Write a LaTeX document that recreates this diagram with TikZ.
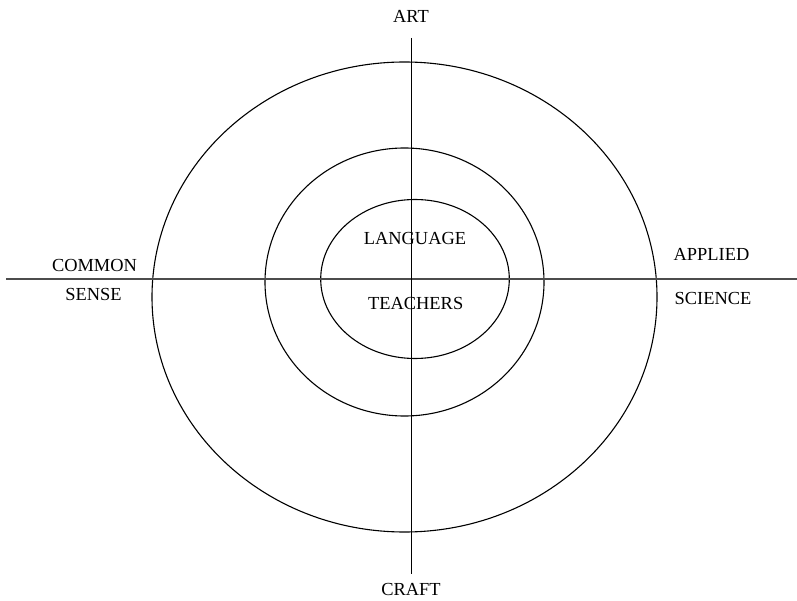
\documentclass[tikz,border=0pt]{standalone}
\usepackage{fontspec}
\setmainfont{Liberation Serif}
\begin{document}
\begin{tikzpicture}[x=1pt,y=-1pt,
  ring/.style={draw=black,line width=1.1pt},
  axis/.style={draw=black,line width=1.2pt},
  haxis/.style={draw=black!70,line width=1.4pt},
  lbl/.style={font=\fontsize{18.4}{20}\selectfont,inner sep=0pt,anchor=center}]
\useasboundingbox (0,0) rectangle (797,601);
% concentric rings
\draw[ring] (404.5,297) ellipse [x radius=252.5, y radius=235];
\draw[ring] (404.5,282) ellipse [x radius=139.5, y radius=134];
\draw[ring] (415,279) ellipse [x radius=94.3, y radius=79.5];
% axes
\coordinate (west) at (6,279);
\coordinate (east) at (797,279);
\coordinate (north) at (411.5,38);
\coordinate (south) at (411.5,574);
\draw[haxis] (west) -- (east);
\draw[axis] (north) -- (south);
% labels
\node[lbl] (art) at (411,16) {ART};
\node[lbl] (craft) at (411,589) {CRAFT};
\node[lbl] (common) at (94.5,265) {COMMON};
\node[lbl] (sense) at (93.5,294.5) {SENSE};
\node[lbl] (applied) at (711.5,254.5) {APPLIED};
\node[lbl] (science) at (713,298.5) {SCIENCE};
\node[lbl] (language) at (415,238) {LANGUAGE};
\node[lbl] (teachers) at (415.7,303) {TEACHERS};
\end{tikzpicture}
\end{document}
